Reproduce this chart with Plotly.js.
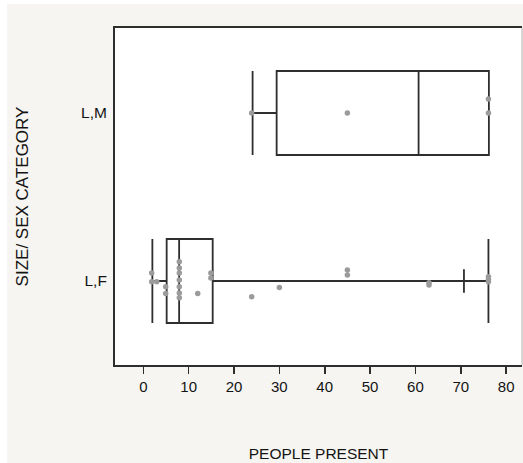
<!DOCTYPE html>
<html>
<head>
<meta charset="utf-8">
<script src="https://cdn.plot.ly/plotly-3.0.1.min.js"></script>
<style>
  html, body { margin: 0; padding: 0; background: #ffffff; width: 523px; height: 463px; overflow: hidden; }
  #chart { position: absolute; left: 7px; top: 4px; width: 516px; height: 459px; }
</style>
</head>
<body>
<div id="chart"></div>
<script>
// Categories (y positions 0 and 1)
var categories = ['L,F', 'L,M'];

// Box statistics for each category
var q1Values = [5.15, 29.4];
var medianValues = [7.9, 60.7];
var q3Values = [15.3, 76.2];
var lowerFenceValues = [2, 24.1];
var upperFenceValues = [76.1, 76.2];

// Extra short tick on the L,F whisker
var lfWhiskerMark = [70.7];

// Individual observations (people present) and their vertical jitter
var lfPeople = [1.85, 1.85, 2.96, 4.94, 4.94, 7.94, 7.94, 7.94, 7.94, 7.94, 7.94, 7.94, 12.0, 14.9, 14.9, 23.9, 30.0, 45.0, 45.0, 63.0, 63.0, 76.1, 76.1, 76.1];
var lfJitter = [0.048, -0.004, -0.004, -0.034, -0.074, 0.115, 0.077, 0.048, 0.006, -0.034, -0.072, -0.10, -0.074, 0.048, 0.018, -0.094, -0.038, 0.065, 0.036, -0.01, -0.024, 0.026, 0.009, -0.004];
var lmPeople = [23.9, 45.0, 76.1, 76.1];
var lmJitter = [0, 0, 0.083, 0];

var xTickVals = [0, 10, 20, 30, 40, 50, 60, 70, 80];

var boxLine = '#2e2e2e';
var pointColor = '#9b9b9b';

var traces = [];
for (var i = 0; i < categories.length; i++) {
  traces.push({
    type: 'box',
    orientation: 'h',
    y: [i],
    q1: [q1Values[i]],
    median: [medianValues[i]],
    q3: [q3Values[i]],
    lowerfence: [lowerFenceValues[i]],
    upperfence: [upperFenceValues[i]],
    width: 0.5,
    whiskerwidth: 1,
    boxpoints: false,
    fillcolor: 'rgba(255,255,255,0)',
    line: { color: boxLine, width: 1.8 },
    hoverinfo: 'skip',
    showlegend: false
  });
}

// short cap on the L,F whisker
traces.push({
  type: 'scatter',
  mode: 'lines',
  x: [lfWhiskerMark[0], lfWhiskerMark[0]],
  y: [0 - 0.07, 0 + 0.07],
  line: { color: boxLine, width: 1.8 },
  hoverinfo: 'skip',
  showlegend: false
});

traces.push({
  type: 'scatter',
  mode: 'markers',
  x: lfPeople,
  y: lfJitter.map(function (d) { return 0 + d; }),
  marker: { color: pointColor, size: 5.5 },
  hoverinfo: 'skip',
  showlegend: false
});
traces.push({
  type: 'scatter',
  mode: 'markers',
  x: lmPeople,
  y: lmJitter.map(function (d) { return 1 + d; }),
  marker: { color: pointColor, size: 5.5 },
  hoverinfo: 'skip',
  showlegend: false
});

var layout = {
  width: 516,
  height: 459,
  margin: { l: 108, r: 1, t: 24, b: 98 },
  paper_bgcolor: '#f6f5f1',
  plot_bgcolor: '#ffffff',
  font: { family: 'Liberation Sans, Arial, sans-serif', size: 15, color: '#141414' },
  showlegend: false,
  hovermode: false,
  xaxis: {
    range: [-6.24, 83.5],
    tickvals: xTickVals,
    ticktext: xTickVals.map(String),
    ticks: 'outside',
    ticklen: 7,
    tickwidth: 1.6,
    tickcolor: '#2e2e2e',
    showgrid: false,
    zeroline: false,
    showline: true,
    mirror: true,
    linecolor: '#2e2e2e',
    linewidth: 2,
    tickfont: { size: 15 },
    title: { text: 'PEOPLE PRESENT', font: { size: 15.5 }, standoff: 54 },
    fixedrange: true
  },
  yaxis: {
    range: [-0.5, 1.506],
    tickvals: [0, 1],
    ticktext: categories,
    ticks: '',
    showgrid: false,
    zeroline: false,
    showline: true,
    mirror: false,
    linecolor: '#2e2e2e',
    linewidth: 2,
    ticklabelstandoff: 3,
    tickfont: { size: 15.5 },
    title: { text: 'SIZE/ SEX CATEGORY', font: { size: 17 }, standoff: 48 },
    fixedrange: true
  },
  shapes: [{
    type: 'line', xref: 'paper', yref: 'paper',
    x0: 1, x1: 1, y0: 0, y1: 1,
    line: { color: '#b5b5b5', width: 1 }
  }]
};

Plotly.newPlot('chart', traces, layout, { displayModeBar: false, staticPlot: true });
</script>
</body>
</html>
